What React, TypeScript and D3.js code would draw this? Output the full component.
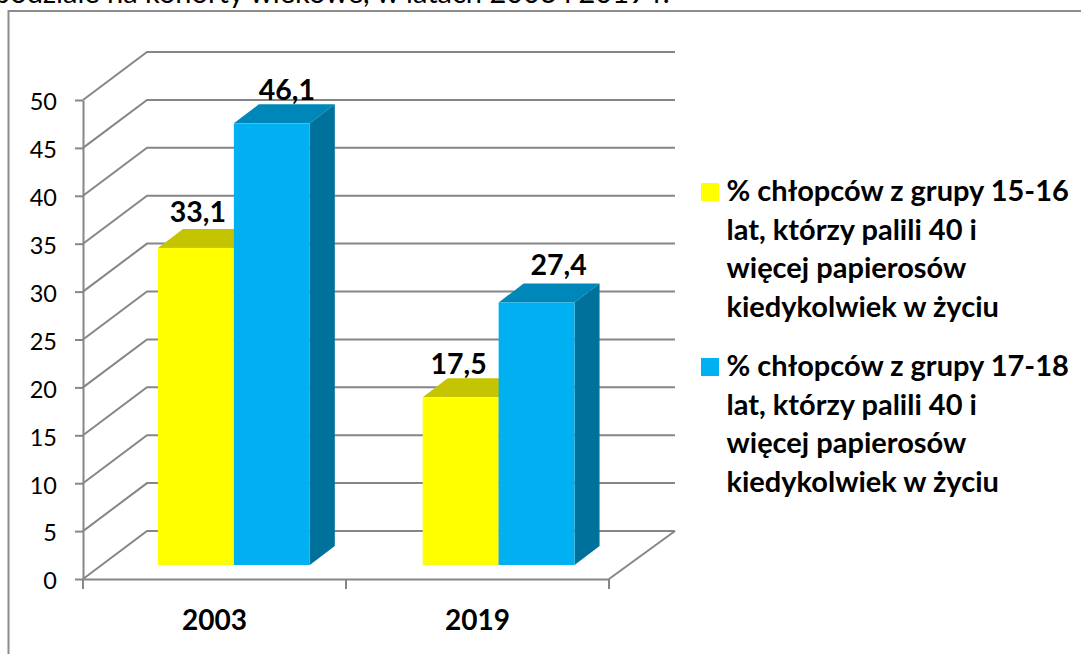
// App.tsx
import React, { useEffect, useRef } from "react";
import * as d3 from "d3";

const categories = ["2003", "2019"];
const seriesNames = ["15-16", "17-18"];
const values1516 = [33.1, 17.5];
const values1718 = [46.1, 27.4];
const yTicks = [0, 5, 10, 15, 20, 25, 30, 35, 40, 45, 50];
const legend1516 = ["% chłopców z grupy 15-16", "lat, którzy palili 40 i", "więcej papierosów", "kiedykolwiek w życiu"];
const legend1718 = ["% chłopców z grupy 17-18", "lat, którzy palili 40 i", "więcej papierosów", "kiedykolwiek w życiu"];
const title = "podziale na kohorty wiekowe, w latach 2003 i 2019 r.";

const FONT = "Lato, 'Open Sans', sans-serif";
const GRID = "#868686";

// colours per series: front, top, side
const palette = [
  { front: "#FFFF00", top: "#C4C400", side: "#9E9E00" },
  { front: "#00B0F0", top: "#0087B9", side: "#00719B" },
];

export default function App() {
  const axisRef = useRef<SVGGElement>(null);

  // front plane of the axis box
  const yAxis = d3.scaleLinear().domain([0, 50]).range([579, 100]);
  const xAxis = d3.scaleBand().domain(categories).range([83, 609]);
  const backDx = 64;
  const backDy = -48;
  const backRight = 675;

  // the bars stand a little way into the floor, so they have their own scales
  const yBar = d3.scaleLinear().domain([0, 50]).range([565, 86]);
  const xGroup = d3.scaleBand().domain(categories).range([101.5, 631]).paddingInner(0.4264).paddingOuter(0.2132);
  const xBar = d3.scaleBand().domain(seriesNames).range([0, xGroup.bandwidth()]);
  const depthX = 25;
  const depthY = -19;

  useEffect(() => {
    if (!axisRef.current) return;
    const g = d3.select(axisRef.current);
    g.selectAll("*").remove();

    const left = g.append("g").attr("transform", "translate(83,0)");
    left.call(d3.axisLeft(yAxis).tickValues(yTicks).tickSize(8).tickSizeOuter(0).tickPadding(18).tickFormat((d) => String(d)));
    left.selectAll("text").attr("font-size", 23.5).attr("font-family", FONT).attr("fill", "#000").attr("dy", "0.42em");

    const bottom = g.append("g").attr("transform", "translate(0,579)");
    bottom.call(
      d3
        .axisBottom(xAxis)
        .tickValues([])
        .tickSize(0)
        .tickSizeOuter(0)
    );
    // category boundaries carry the ticks
    const edges = [83, (xAxis("2019") as number), 609];
    bottom
      .selectAll("line.edge")
      .data(edges)
      .join("line")
      .attr("class", "edge")
      .attr("x1", (d) => d)
      .attr("x2", (d) => d)
      .attr("y1", 0)
      .attr("y2", 10);

    g.selectAll("path.domain, line").attr("stroke", GRID).attr("stroke-width", 2);
  }, []);

  const valuesBySeries = [values1516, values1718];
  const labelNudge = [
    [{ dx: 2, dy: -26 }, { dx: -2, dy: -23 }],
    [{ dx: 15, dy: -23 }, { dx: 22, dy: -28 }],
  ];

  const renderLegend = (lines: string[], color: string, top: number) => (
    <g>
      <rect x={701} y={top} width={18} height={18} fill={color} />
      {lines.map((line, i) => (
        <text key={i} x={726.5} y={top + 18 + i * 38.7} fontSize={29} fontWeight={700} fontFamily={FONT} fill="#000">
          {line}
        </text>
      ))}
    </g>
  );

  return (
    <svg width={1081} height={654} style={{ position: "absolute", left: 0, top: 0, display: "block", background: "#fff" }}>
      <text x={-6} y={3} fontSize={29} fontFamily={FONT} fill="#000">
        {title}
      </text>

      {/* outer frame runs off the right and bottom of the crop */}
      <path d="M8.5,660V11H1090" fill="none" stroke="#8c8c8c" strokeWidth={2} />

      {/* gridlines, side wall and floor */}
      {yTicks.map((t) => (
        <polyline
          key={t}
          points={`83,${yAxis(t)} ${83 + backDx},${yAxis(t) + backDy} ${backRight},${yAxis(t) + backDy}`}
          fill="none"
          stroke={GRID}
          strokeWidth={2}
        />
      ))}
      <line x1={backRight} y1={yAxis(0) + backDy} x2={609} y2={yAxis(0)} stroke={GRID} strokeWidth={2} />

      <g ref={axisRef} />

      {/* bars: left to right, so the taller blue one covers the yellow top */}
      {categories.map((cat, c) =>
        seriesNames.map((name, s) => {
          const x = (xGroup(cat) as number) + (xBar(name) as number);
          const w = xBar.bandwidth();
          const yTop = yBar(valuesBySeries[s][c]);
          const yBase = yBar(0);
          const col = palette[s];
          return (
            <g key={cat + name}>
              <polygon
                points={`${x},${yTop} ${x + depthX},${yTop + depthY} ${x + w + depthX},${yTop + depthY} ${x + w},${yTop}`}
                fill={col.top}
              />
              <polygon
                points={`${x + w},${yTop} ${x + w + depthX},${yTop + depthY} ${x + w + depthX},${yBase + depthY} ${x + w},${yBase}`}
                fill={col.side}
              />
              <rect x={x} y={yTop} width={w} height={yBase - yTop} fill={col.front} />
            </g>
          );
        })
      )}

      {/* value labels */}
      {categories.map((cat, c) =>
        seriesNames.map((name, s) => {
          const x = (xGroup(cat) as number) + (xBar(name) as number) + xBar.bandwidth() / 2;
          const v = valuesBySeries[s][c];
          const n = labelNudge[s][c];
          return (
            <text
              key={cat + name}
              x={x + n.dx}
              y={yBar(v) + n.dy}
              textAnchor="middle"
              fontSize={28.5}
              fontWeight={700}
              fontFamily={FONT}
              fill="#000"
            >
              {String(v).replace(".", ",")}
            </text>
          );
        })
      )}

      {/* category labels */}
      {categories.map((cat) => (
        <text
          key={cat}
          x={(xAxis(cat) as number) + xAxis.bandwidth() / 2}
          y={630}
          textAnchor="middle"
          fontSize={28}
          fontWeight={700}
          fontFamily={FONT}
          fill="#000"
        >
          {cat}
        </text>
      ))}

      {renderLegend(legend1516, palette[0].front, 183)}
      {renderLegend(legend1718, palette[1].front, 358)}
    </svg>
  );
}
